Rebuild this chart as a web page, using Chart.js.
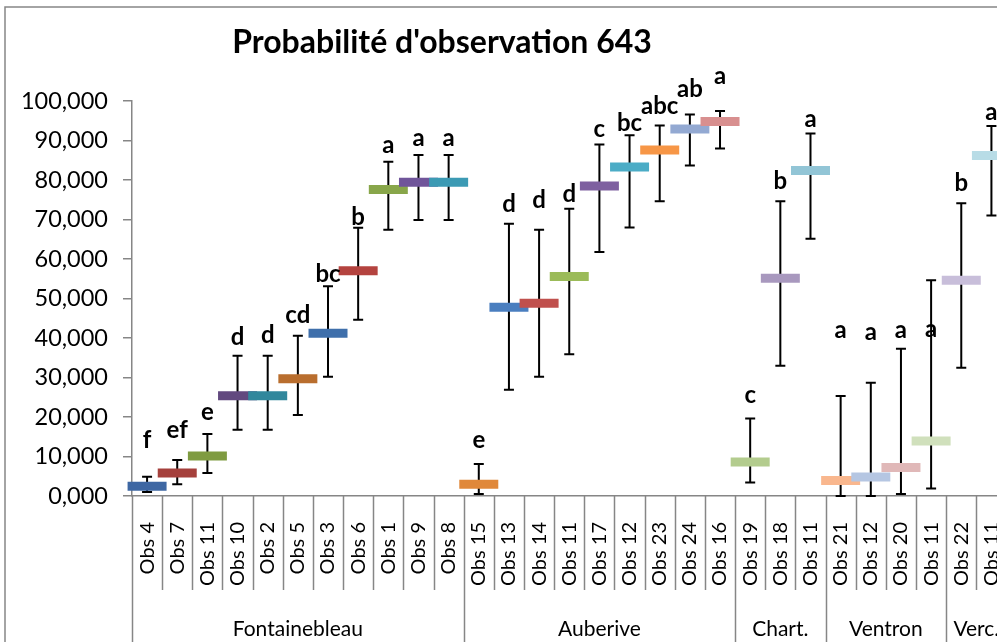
<!DOCTYPE html>
<html>
<head>
<meta charset="utf-8">
<script src="https://cdn.jsdelivr.net/npm/chart.js@4.4.0/dist/chart.umd.min.js"></script>
<style>
  html, body { margin: 0; padding: 0; background: #fff; overflow: hidden; }
  #wrap { position: relative; width: 1035px; height: 642px; }
</style>
</head>
<body>
<div id="wrap"><canvas id="chart" width="1035" height="642"></canvas></div>
<script>
const titleText = "Probabilité d'observation 643";

const categories = [
  'Obs 4', 'Obs 7', 'Obs 11', 'Obs 10', 'Obs 2', 'Obs 5', 'Obs 3', 'Obs 6', 'Obs 1', 'Obs 9', 'Obs 8',
  'Obs 15', 'Obs 13', 'Obs 14', 'Obs 11', 'Obs 17', 'Obs 12', 'Obs 23', 'Obs 24', 'Obs 16',
  'Obs 19', 'Obs 18', 'Obs 11',
  'Obs 21', 'Obs 12', 'Obs 20', 'Obs 11',
  'Obs 22', 'Obs 11',
];
const groupNames = ['Fontainebleau', 'Auberive', 'Chart.', 'Ventron', 'Verc.'];
const groupSizes = [11, 9, 3, 4, 2];

const means = [
  2.5, 5.8, 10.1, 25.4, 25.4, 29.7, 41.2, 57.0, 77.6, 79.4, 79.4,
  3.0, 47.8, 48.8, 55.6, 78.5, 83.3, 87.6, 92.9, 94.8,
  8.6, 55.1, 82.4,
  3.9, 4.8, 7.2, 13.9,
  54.6, 86.2,
];
const upper = [
  4.9, 9.1, 15.7, 35.5, 35.5, 40.6, 53.1, 67.9, 84.6, 86.3, 86.3,
  8.1, 68.9, 67.4, 72.7, 89.0, 91.3, 93.8, 96.6, 97.5,
  19.6, 74.6, 91.8,
  25.3, 28.7, 37.3, 54.6,
  74.1, 93.7,
];
const lower = [
  1.0, 3.0, 5.8, 16.8, 16.8, 20.5, 30.2, 44.6, 67.4, 69.9, 69.9,
  0.5, 26.9, 30.2, 35.9, 61.8, 68.0, 74.6, 83.7, 88.0,
  3.4, 33.0, 65.1,
  0.0, 0.0, 0.5, 1.9,
  32.5, 71.0,
];
const letters = [
  'f', 'ef', 'e', 'd', 'd', 'cd', 'bc', 'b', 'a', 'a', 'a',
  'e', 'd', 'd', 'd', 'c', 'bc', 'abc', 'ab', 'a',
  'c', 'b', 'a',
  'a', 'a', 'a', 'a',
  'b', 'a',
];
// hauteur (en valeur) de la ligne de base de chaque lettre
const letterLevels = [
  12.2, 14.7, 19.3, 38.3, 38.8, 43.9, 54.2, 68.7, 86.9, 88.5, 88.5,
  12.2, 72.0, 73.0, 74.5, 91.0, 92.3, 96.6, 100.9, 104.2,
  23.6, 77.6, 93.5,
  40.0, 39.5, 40.0, 40.3,
  77.1, 95.3,
];
const markerColors = [
  '#3E67A3', '#A5403C', '#7F9B41', '#62497F', '#31879C', '#B96E2E', '#3F6FAB', '#B4433F', '#88A64A', '#70559A', '#3C9AB4',
  '#E0883A', '#4A7EBF', '#C0504D', '#9BBB59', '#7E60A0', '#4BACC6', '#F79646', '#93A9D2', '#D88F8F',
  '#B3CC8E', '#A898BE', '#92C5D6',
  '#F9B78E', '#B5C6E2', '#E0B8B8', '#D0E0BC',
  '#C8BEDA', '#B8DCE6',
];

const axisGray = '#868686';
const fontFamily = 'Lato, "Open Sans", sans-serif';

const framePlugin = {
  id: 'frame',
  beforeDraw(chart) {
    const { ctx, width, height } = chart;
    ctx.save();
    ctx.fillStyle = '#fff';
    ctx.fillRect(0, 0, width, height);
    ctx.strokeStyle = axisGray;
    ctx.lineWidth = 1.5;
    ctx.strokeRect(5, 7, width + 20, height + 20);
    ctx.fillStyle = '#000';
    ctx.font = 'bold 32px ' + fontFamily;
    ctx.textAlign = 'center';
    ctx.textBaseline = 'alphabetic';
    ctx.fillText(titleText, 442, 53);
    ctx.restore();
  },
};

const errorBarsPlugin = {
  id: 'errorBars',
  beforeDatasetsDraw(chart) {
    const { ctx, scales: { x, y } } = chart;
    ctx.save();
    ctx.strokeStyle = '#000';
    ctx.lineWidth = 2;
    means.forEach((m, i) => {
      const px = x.getPixelForValue(i);
      const top = y.getPixelForValue(upper[i]);
      const bot = y.getPixelForValue(lower[i]);
      ctx.beginPath();
      ctx.moveTo(px, top); ctx.lineTo(px, bot);
      ctx.moveTo(px - 5, top); ctx.lineTo(px + 5, top);
      ctx.moveTo(px - 5, bot); ctx.lineTo(px + 5, bot);
      ctx.stroke();
    });
    ctx.restore();
  },
};

const lettersPlugin = {
  id: 'letters',
  afterDatasetsDraw(chart) {
    const { ctx } = chart;
    const meta = chart.getDatasetMeta(1);
    ctx.save();
    ctx.fillStyle = '#000';
    ctx.font = 'bold 24px ' + fontFamily;
    ctx.textAlign = 'center';
    ctx.textBaseline = 'alphabetic';
    meta.data.forEach((pt, i) => ctx.fillText(letters[i], pt.x, pt.y));
    ctx.restore();
  },
};

const groupAxisPlugin = {
  id: 'groupAxis',
  afterDraw(chart) {
    const { ctx, height, scales: { x } } = chart;
    const step = x.getPixelForValue(1) - x.getPixelForValue(0);
    const edge = (i) => x.getPixelForValue(i) - step / 2;
    const base = x.top;

    const groupEdges = [0];
    groupSizes.forEach((n) => groupEdges.push(groupEdges[groupEdges.length - 1] + n));

    ctx.save();
    ctx.strokeStyle = axisGray;
    ctx.lineWidth = 1.5;
    for (let i = 0; i <= categories.length; i++) {
      const ex = Math.round(edge(i)) + 0.5;
      ctx.beginPath();
      ctx.moveTo(ex, base);
      ctx.lineTo(ex, groupEdges.includes(i) ? height : base + 94);
      ctx.stroke();
    }

    ctx.fillStyle = '#000';
    ctx.font = '20px ' + fontFamily;
    ctx.textAlign = 'right';
    ctx.textBaseline = 'middle';
    categories.forEach((c, i) => {
      ctx.save();
      ctx.translate(x.getPixelForValue(i), base + 26);
      ctx.rotate(-Math.PI / 2);
      ctx.fillText(c, 0, 0);
      ctx.restore();
    });

    ctx.font = '21px ' + fontFamily;
    ctx.textAlign = 'center';
    groupNames.forEach((g, k) => {
      const cx = (edge(groupEdges[k]) + edge(groupEdges[k + 1])) / 2;
      ctx.fillText(g, cx, 629);
    });
    ctx.restore();
  },
};

new Chart(document.getElementById('chart'), {
  type: 'line',
  data: {
    labels: categories,
    datasets: [
      {
        label: 'Moyenne',
        data: means,
        showLine: false,
        clip: false,
        pointStyle: 'line',
        pointRadius: 19.5,
        pointHoverRadius: 19.5,
        pointBorderWidth: 9,
        pointHoverBorderWidth: 9,
        pointBorderColor: markerColors,
        pointBackgroundColor: markerColors,
      },
      {
        label: 'Lettres',
        data: letterLevels,
        showLine: false,
        clip: false,
        pointRadius: 0,
        pointHoverRadius: 0,
      },
    ],
  },
  options: {
    responsive: false,
    animation: false,
    devicePixelRatio: 1,
    events: [],
    layout: { padding: { top: 101, left: 0, right: 0, bottom: 0 } },
    plugins: { legend: { display: false }, tooltip: { enabled: false }, title: { display: false } },
    scales: {
      x: {
        type: 'category',
        offset: true,
        grid: { display: false },
        border: { display: true, color: axisGray, width: 1.5 },
        ticks: { display: false },
        afterFit: (scale) => { scale.height = 146; },
      },
      y: {
        min: 0,
        max: 100,
        ticks: {
          stepSize: 10,
          padding: 15,
          color: '#000',
          font: { family: fontFamily, size: 23.5 },
          callback: (v) => v.toFixed(3).replace('.', ','),
        },
        grid: { drawOnChartArea: false, drawTicks: true, tickLength: 9, color: axisGray, lineWidth: 1.5 },
        border: { display: true, color: axisGray, width: 1.5 },
        afterFit: (scale) => { scale.width = 132; },
      },
    },
  },
  plugins: [framePlugin, errorBarsPlugin, lettersPlugin, groupAxisPlugin],
});
</script>
</body>
</html>
